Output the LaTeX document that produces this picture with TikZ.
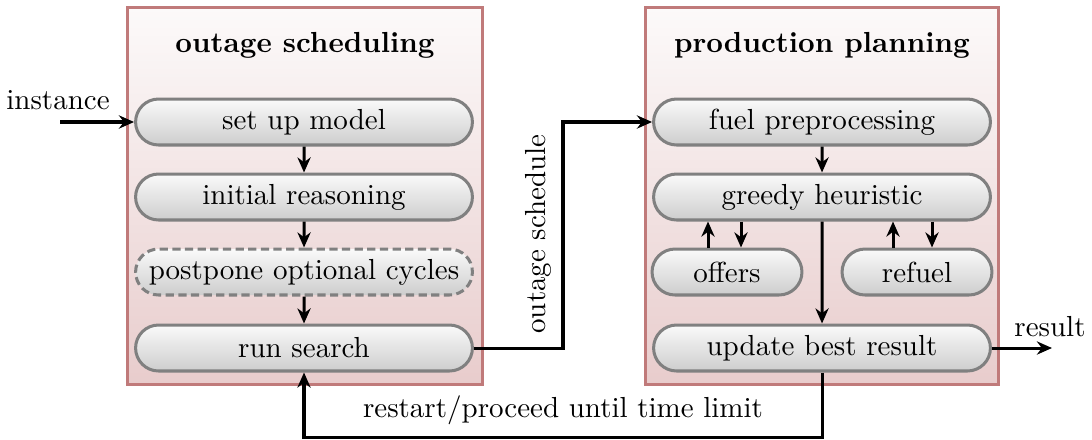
\documentclass[tikz,border=0pt]{standalone}
\usetikzlibrary{shapes.misc,arrows.meta,calc}
\definecolor{boxborder}{RGB}{192,122,122}
\definecolor{boxbottom}{RGB}{232,204,204}
\definecolor{boxtop}{RGB}{252,250,250}
\definecolor{nodeborder}{RGB}{128,128,128}
\definecolor{nodebottom}{RGB}{205,205,205}
\definecolor{nodetop}{RGB}{250,250,250}
\begin{document}
\begin{tikzpicture}[x=0.01278cm,y=-0.01278cm,
  every node/.style={font=\fontsize{10.55}{12.7}\selectfont},
  stage/.style={draw=boxborder,line width=1.1pt,top color=boxtop,bottom color=boxbottom,
    rectangle,minimum height=4.831cm,inner sep=0pt},
  proc/.style={rounded rectangle,draw=nodeborder,line width=1.1pt,top color=nodetop,
    bottom color=nodebottom,minimum width=4.307cm,minimum height=0.588cm,inner sep=0pt},
  small/.style={proc,minimum width=1.917cm},
  optional/.style={dash pattern=on 3pt off 1.6pt},
  title/.style={font=\fontsize{10.55}{12.7}\selectfont\bfseries},
  arr/.style={line width=1.1pt,-{Stealth[length=5.5pt,width=4.8pt]}}]
\useasboundingbox (0,0) rectangle (1092,439);
% stages
\node[stage,minimum width=4.55cm] (os) at (305,196) {};
\node[stage,minimum width=4.524cm] (pp) at (822,196) {};
\node[title] (ost) at (305,45) {outage scheduling};
\node[title] (ppt) at (822,45) {production planning};
% left nodes
\node[proc] (setup) at (304,122) {set up model};
\node[proc] (init) at (304,197) {initial reasoning};
\node[proc,optional] (post) at (304,272) {postpone optional cycles};
\node[proc] (run) at (304,348) {run search};
% right nodes
\node[proc] (fuel) at (822,122) {fuel preprocessing};
\node[proc] (greedy) at (822,197) {greedy heuristic};
\node[small] (offers) at (727,272) {offers};
\node[small] (refuel) at (917,272) {refuel};
\node[proc] (update) at (822,348) {update best result};
% coordinates
\coordinate (in) at (60,122);
\coordinate (res) at (1052,348);
\coordinate (k) at (563,0);
\coordinate (bot) at (0,437);
\coordinate (o1) at (708,0);
\coordinate (o2) at (741,0);
\coordinate (r1) at (893,0);
\coordinate (r2) at (932,0);
% labels
\node (lin) at (58,100) {instance};
\node (lres) at (1050,327) {result};
\node[rotate=90] (lsched) at (538,234) {outage schedule};
\node (lrest) at (563,410) {restart/proceed until time limit};
% connectors
\draw[arr] (in) -- (setup.west);
\draw[arr] (setup) -- (init);
\draw[arr] (init) -- (post);
\draw[arr] (post) -- (run);
\draw[arr] (run.east) -- (run.east -| k) |- (fuel.west);
\draw[arr] (fuel) -- (greedy);
\draw[arr] (offers.north -| o1) -- (greedy.south -| o1);
\draw[arr] (greedy.south -| o2) -- (offers.north -| o2);
\draw[arr] (refuel.north -| r1) -- (greedy.south -| r1);
\draw[arr] (greedy.south -| r2) -- (refuel.north -| r2);
\draw[arr] (greedy) -- (update);
\draw[arr] (update.east) -- (res);
\draw[arr] (update.south) -- (update.south |- bot) -| (run.south);
\end{tikzpicture}
\end{document}
